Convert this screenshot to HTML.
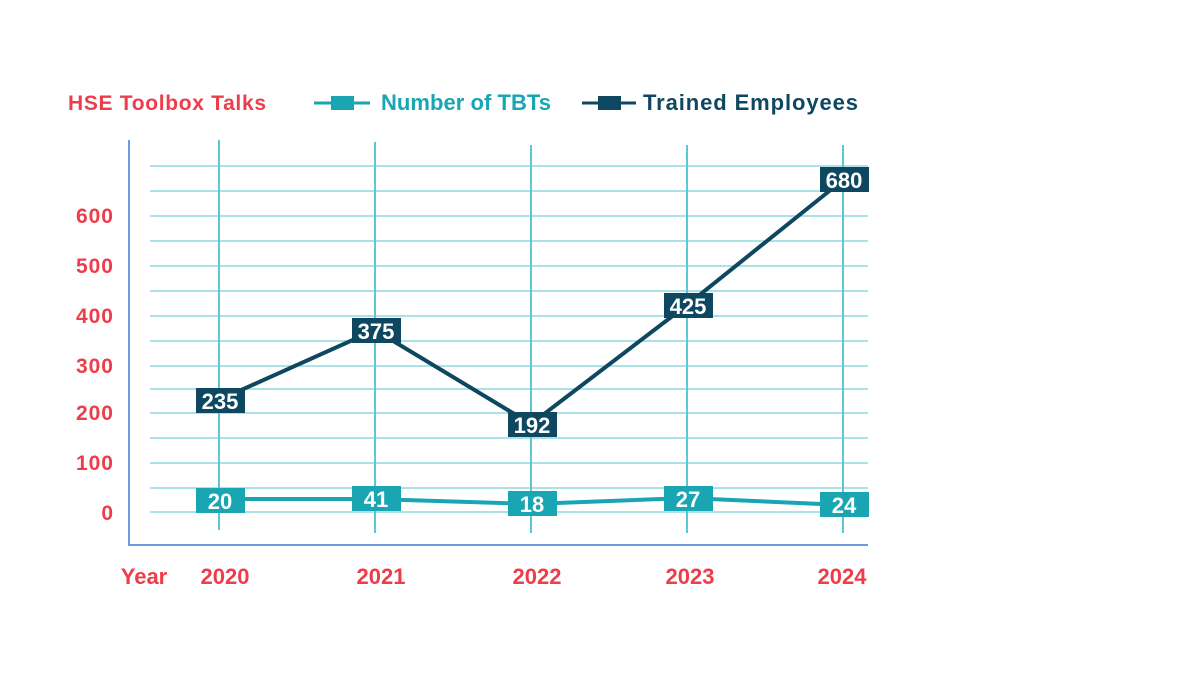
<!DOCTYPE html>
<html><head><style>
body{margin:0;background:#fff}
svg text{font-family:"Liberation Sans",sans-serif;font-weight:bold}
</style></head><body>
<svg width="1200" height="687" xmlns="http://www.w3.org/2000/svg">
<g stroke="#8fd8e2" stroke-width="1.5">
<line x1="150" x2="868" y1="166" y2="166"/><line x1="150" x2="868" y1="191" y2="191"/><line x1="150" x2="868" y1="216" y2="216"/><line x1="150" x2="868" y1="241" y2="241"/><line x1="150" x2="868" y1="266" y2="266"/><line x1="150" x2="868" y1="291" y2="291"/><line x1="150" x2="868" y1="316" y2="316"/><line x1="150" x2="868" y1="341" y2="341"/><line x1="150" x2="868" y1="366" y2="366"/><line x1="150" x2="868" y1="389" y2="389"/><line x1="150" x2="868" y1="413" y2="413"/><line x1="150" x2="868" y1="438" y2="438"/><line x1="150" x2="868" y1="463" y2="463"/><line x1="150" x2="868" y1="488" y2="488"/><line x1="150" x2="868" y1="512" y2="512"/>
</g>
<g stroke="#5cc8d4" stroke-width="2">
<line x1="219" x2="219" y1="140" y2="530"/><line x1="375" x2="375" y1="142" y2="533"/><line x1="531" x2="531" y1="145" y2="533"/><line x1="687" x2="687" y1="145" y2="533"/><line x1="843" x2="843" y1="145" y2="533"/>
</g>
<polyline points="129,140 129,545 868,545" fill="none" stroke="#6f9be0" stroke-width="2"/>
<polyline points="219,499 375,499 531,504 687,498 843,505" fill="none" stroke="#1aa5b3" stroke-width="4"/>
<polyline points="219,400 375,330 531,424 687,305 843,180" fill="none" stroke="#0e4760" stroke-width="4"/>
<g fill="#1aa5b3">
<rect x="196" y="488" width="49" height="25"/><rect x="352" y="486" width="49" height="25"/><rect x="508" y="491" width="49" height="25"/><rect x="664" y="486" width="49" height="25"/><rect x="820" y="492" width="49" height="25"/>
</g>
<g fill="#0e4760">
<rect x="196" y="388" width="49" height="25"/><rect x="352" y="318" width="49" height="25"/><rect x="508" y="412" width="49" height="25"/><rect x="664" y="293" width="49" height="25"/><rect x="820" y="167" width="49" height="25"/>
</g>
<g fill="#fff" font-size="22" text-anchor="middle">
<text x="220" y="509">20</text><text x="376" y="507">41</text><text x="532" y="512">18</text><text x="688" y="507">27</text><text x="844" y="513">24</text>
<text x="220" y="409">235</text><text x="376" y="339">375</text><text x="532" y="433">192</text><text x="688" y="314">425</text><text x="844" y="188">680</text>
</g>
<g fill="#ee3d4a" font-size="21" text-anchor="end" letter-spacing="1">
<text x="114" y="223">600</text><text x="114" y="273">500</text><text x="114" y="323">400</text><text x="114" y="373">300</text><text x="114" y="420">200</text><text x="114" y="470">100</text><text x="114" y="520">0</text>
</g>
<g fill="#ee3d4a" font-size="22" text-anchor="middle">
<text x="144" y="584">Year</text><text x="225" y="584">2020</text><text x="381" y="584">2021</text><text x="537" y="584">2022</text><text x="690" y="584">2023</text><text x="842" y="584">2024</text>
</g>
<text x="68" y="110" fill="#ee3d4a" font-size="21" textLength="198" lengthAdjust="spacing">HSE Toolbox Talks</text>
<line x1="314" x2="370" y1="103" y2="103" stroke="#1aa5b3" stroke-width="3"/><rect x="331" y="96" width="23" height="14" fill="#1aa5b3"/>
<text x="381" y="110" fill="#1aa5b3" font-size="22" textLength="170" lengthAdjust="spacing">Number of TBTs</text>
<line x1="582" x2="636" y1="103" y2="103" stroke="#0e4760" stroke-width="3"/><rect x="598" y="96" width="23" height="14" fill="#0e4760"/>
<text x="643" y="110" fill="#0e4760" font-size="22" textLength="215" lengthAdjust="spacing">Trained Employees</text>
</svg>
</body></html>
